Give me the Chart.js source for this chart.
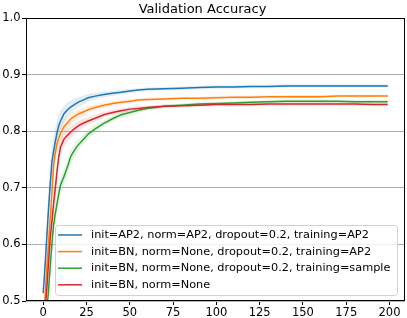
<!DOCTYPE html>
<html>
<head>
<meta charset="utf-8">
<script src="https://cdn.jsdelivr.net/npm/chart.js@4.4.1/dist/chart.umd.min.js"></script>
<style>
  html, body { margin: 0; padding: 0; background: #fff; }
  #myChart { display: block; }
</style>
</head>
<body>
<canvas id="myChart" width="407" height="318"></canvas>
<script>
const epochs = [0, 1, 2, 3, 4, 5, 6, 7, 8, 9, 10, 12, 14, 16, 18, 20, 23, 26, 30, 35, 40, 45, 50, 55, 60, 70, 80, 90, 100, 110, 120, 130, 140, 150, 160, 170, 180, 190, 199];

const labels = [
  'init=AP2, norm=AP2, dropout=0.2, training=AP2',
  'init=BN, norm=None, dropout=0.2, training=AP2',
  'init=BN, norm=None, dropout=0.2, training=sample',
  'init=BN, norm=None'
];
const colors = ['#1f77b4', '#ff7f0e', '#2ca02c', '#d62728'];

const accAP2 = [0.514, 0.56, 0.61, 0.66, 0.705, 0.745, 0.765, 0.782, 0.798, 0.81, 0.818, 0.831, 0.838, 0.843, 0.847, 0.851, 0.855, 0.859, 0.862, 0.865, 0.867, 0.869, 0.871, 0.873, 0.874, 0.875, 0.876, 0.877, 0.878, 0.878, 0.879, 0.879, 0.88, 0.88, 0.88, 0.88, 0.88, 0.88, 0.88];
const accBNAP2 = [0.465, 0.505, 0.555, 0.6, 0.645, 0.69, 0.74, 0.762, 0.778, 0.788, 0.796, 0.808, 0.815, 0.822, 0.826, 0.83, 0.834, 0.838, 0.842, 0.846, 0.849, 0.851, 0.853, 0.855, 0.856, 0.857, 0.858, 0.858, 0.859, 0.86, 0.86, 0.861, 0.861, 0.861, 0.861, 0.862, 0.862, 0.862, 0.862];
const accBNSample = [0.43, 0.455, 0.485, 0.515, 0.56, 0.6, 0.635, 0.655, 0.672, 0.69, 0.705, 0.72, 0.737, 0.756, 0.766, 0.775, 0.785, 0.795, 0.804, 0.814, 0.822, 0.829, 0.833, 0.837, 0.84, 0.844, 0.846, 0.848, 0.849, 0.85, 0.851, 0.852, 0.853, 0.853, 0.853, 0.853, 0.852, 0.852, 0.852];
const accBN = [0.445, 0.48, 0.52, 0.565, 0.61, 0.64, 0.672, 0.7, 0.73, 0.755, 0.772, 0.786, 0.793, 0.799, 0.804, 0.809, 0.814, 0.818, 0.823, 0.829, 0.833, 0.836, 0.839, 0.84, 0.842, 0.844, 0.845, 0.846, 0.847, 0.847, 0.847, 0.848, 0.848, 0.848, 0.848, 0.848, 0.848, 0.847, 0.847];

// spread of the shaded bands
const stdAP2 = [0.01, 0.02, 0.03, 0.035, 0.035, 0.03, 0.028, 0.025, 0.022, 0.02, 0.018, 0.015, 0.013, 0.011, 0.01, 0.009, 0.008, 0.007, 0.006, 0.005, 0.005, 0.004, 0.004, 0.003, 0.003, 0.003, 0.003, 0.003, 0.003, 0.003, 0.003, 0.003, 0.003, 0.003, 0.003, 0.003, 0.003, 0.003, 0.003];
const stdBNAP2 = [0.01, 0.015, 0.02, 0.025, 0.025, 0.025, 0.022, 0.02, 0.018, 0.016, 0.015, 0.013, 0.011, 0.01, 0.009, 0.008, 0.007, 0.006, 0.005, 0.005, 0.004, 0.004, 0.003, 0.003, 0.003, 0.003, 0.003, 0.003, 0.003, 0.003, 0.003, 0.003, 0.003, 0.003, 0.003, 0.003, 0.003, 0.003, 0.003];
const stdBNSample = [0.01, 0.015, 0.02, 0.022, 0.022, 0.02, 0.02, 0.018, 0.017, 0.016, 0.015, 0.014, 0.013, 0.012, 0.011, 0.01, 0.009, 0.008, 0.007, 0.006, 0.005, 0.005, 0.004, 0.004, 0.004, 0.003, 0.003, 0.003, 0.003, 0.003, 0.003, 0.003, 0.003, 0.003, 0.003, 0.003, 0.003, 0.003, 0.003];
const stdBN = [0.01, 0.015, 0.02, 0.022, 0.022, 0.02, 0.02, 0.018, 0.017, 0.016, 0.015, 0.013, 0.012, 0.011, 0.01, 0.009, 0.008, 0.007, 0.006, 0.005, 0.005, 0.004, 0.004, 0.004, 0.003, 0.003, 0.003, 0.003, 0.003, 0.003, 0.003, 0.003, 0.003, 0.003, 0.003, 0.003, 0.003, 0.003, 0.003];

const xTicks = [0, 25, 50, 75, 100, 125, 150, 175, 200];
const yTicks = [0.5, 0.6, 0.7, 0.8, 0.9, 1.0];

const means = [accAP2, accBNAP2, accBNSample, accBN];
const stds = [stdAP2, stdBNAP2, stdBNSample, stdBN];

function pts(arr) {
  return epochs.map((e, i) => ({ x: e, y: arr[i] }));
}
function rgba(hex, a) {
  const n = parseInt(hex.slice(1), 16);
  return `rgba(${n >> 16},${(n >> 8) & 255},${n & 255},${a})`;
}

const datasets = [];
means.forEach((m, k) => {
  datasets.push({
    label: labels[k],
    data: pts(m),
    borderColor: colors[k],
    borderWidth: 1.5,
    pointRadius: 0,
    fill: false,
    order: 4 - k
  });
});
means.forEach((m, k) => {
  const up = m.map((v, i) => v + stds[k][i]);
  const lo = m.map((v, i) => v - stds[k][i]);
  datasets.push({
    label: 'band-up',
    data: pts(up),
    borderWidth: 0,
    pointRadius: 0,
    backgroundColor: rgba(colors[k], 0.13),
    fill: '+1',
    order: 10
  });
  datasets.push({
    label: 'band-lo',
    data: pts(lo),
    borderWidth: 0,
    pointRadius: 0,
    fill: false,
    order: 10
  });
});

const FONT = 'DejaVu Sans';

const framePlugin = {
  id: 'frame',
  afterDatasetsDraw(chart) {
    const { ctx, chartArea: a } = chart;
    // legend box inside the plot
    ctx.save();
    const lx = 55.5, ly = 225.5, lw = 342, lh = 70;
    ctx.beginPath();
    ctx.roundRect(lx, ly, lw, lh, 3);
    ctx.fillStyle = 'rgba(255,255,255,0.8)';
    ctx.fill();
    ctx.strokeStyle = 'rgba(204,204,204,0.9)';
    ctx.lineWidth = 1;
    ctx.stroke();
    ctx.font = `11.3px "${FONT}"`;
    ctx.textBaseline = 'middle';
    ctx.fillStyle = '#000';
    labels.forEach((t, i) => {
      const y = 235 + i * 16.6;
      ctx.strokeStyle = colors[i];
      ctx.lineWidth = 1.5;
      ctx.beginPath();
      ctx.moveTo(58, y);
      ctx.lineTo(82, y);
      ctx.stroke();
      ctx.fillText(t, 91, y);
    });
    // axes box
    ctx.strokeStyle = '#000';
    ctx.lineWidth = 1;
    ctx.strokeRect(Math.round(a.left) + 0.5, Math.round(a.top) + 0.5, Math.round(a.right - a.left) - 1, Math.round(a.bottom - a.top) - 1);
    ctx.restore();
  }
};

const ctx = document.getElementById('myChart').getContext('2d');
const myChart = new Chart(ctx, {
  type: 'line',
  data: { datasets },
  options: {
    responsive: false,
    animation: false,
    layout: { padding: { left: 0, right: 2, top: 0, bottom: 0 } },
    plugins: {
      legend: { display: false },
      tooltip: { enabled: false },
      title: {
        display: true,
        text: 'Validation Accuracy',
        color: '#000',
        font: { family: FONT, size: 13, weight: 'normal' },
        padding: { top: 1.6, bottom: 0.8 }
      }
    },
    scales: {
      x: {
        type: 'linear',
        min: -9.95,
        max: 208.95,
        afterBuildTicks: s => { s.ticks = xTicks.map(v => ({ value: v })); },
        afterFit: s => { s.height = 17; },
        grid: { drawOnChartArea: false, tickLength: 4, tickColor: '#000' },
        border: { display: false },
        ticks: { color: '#000', padding: 1, maxRotation: 0, font: { family: FONT, size: 11.5 } }
      },
      y: {
        min: 0.5,
        max: 1.0,
        afterBuildTicks: s => { s.ticks = yTicks.map(v => ({ value: v })); },
        afterFit: s => { s.width = 26; },
        grid: { color: '#b0b0b0', lineWidth: 1, tickLength: 4, tickColor: '#000' },
        border: { display: false },
        ticks: { color: '#000', padding: 1.5, font: { family: FONT, size: 11.5 }, callback: v => v.toFixed(1) }
      }
    }
  },
  plugins: [framePlugin]
});
</script>
</body>
</html>
